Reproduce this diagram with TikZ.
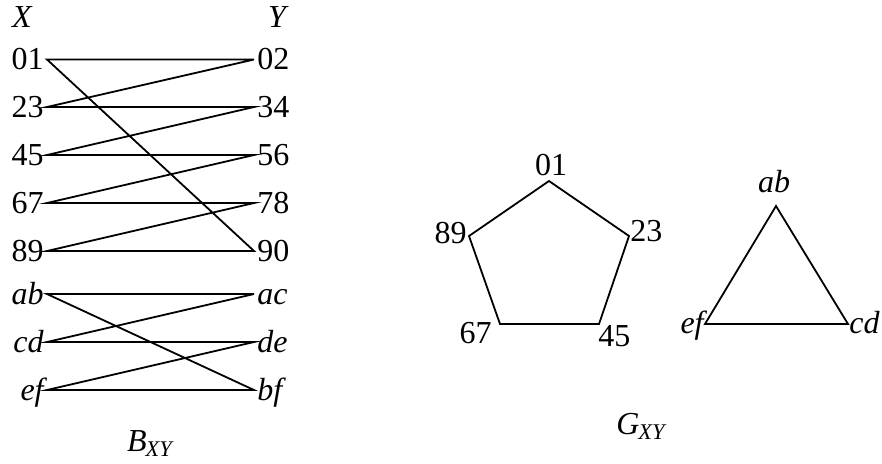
\documentclass[tikz,border=0pt]{standalone}
\usepackage{fontspec}
\setmainfont{Liberation Serif}
\begin{document}
\begin{tikzpicture}[x=0.5pt,y=-0.5pt,
  lbl/.style={inner sep=0pt,font=\fontsize{16}{19}\selectfont},
  edge/.style={line width=0.9pt,line join=miter}]
\useasboundingbox (0,0) rectangle (882,463);
% ---------- B_XY ----------
\node[lbl,anchor=base] (X) at (22,27) {\itshape X};
\node[lbl,anchor=base] (Y) at (277,27) {\itshape Y};
\foreach \n/\t/\y in {l01/01/59.5,l23/23/107,l45/45/155,l67/67/203,l89/89/251}
  {\coordinate (\n) at (47,\y);
   \node[lbl,anchor=base east] (t\n) at (44,\y+10) {\t};}
\foreach \n/\t/\y in {lab/ab/294,lcd/cd/342,lef/ef/390}
  {\coordinate (\n) at (47,\y);
   \node[lbl,anchor=base east] (t\n) at (44,\y+10) {\itshape \t};}
\foreach \n/\t/\y in {r02/02/59.5,r34/34/107,r56/56/155,r78/78/203,r90/90/251}
  {\coordinate (\n) at (254,\y);
   \node[lbl,anchor=base west] (t\n) at (257,\y+10) {\t};}
\foreach \n/\t/\y in {rac/ac/294,rde/de/342,rbf/bf/390}
  {\coordinate (\n) at (254,\y);
   \node[lbl,anchor=base west] (t\n) at (257,\y+10) {\itshape \t};}
\draw[edge] (r02) -- (l01) -- (r90) -- (l89) -- (r78) -- (l67) -- (r56) -- (l45) -- (r34) -- (l23) -- (r02);
\draw[edge] (rac) -- (lab) -- (rbf) -- (lef) -- (rde) -- (lcd) -- (rac);
\node[lbl,anchor=base] (B) at (150,451) {\itshape B\textsubscript{\kern-0.5pt XY}};
% ---------- G_XY pentagon ----------
\coordinate (p01) at (549,181);
\coordinate (p23) at (629,236);
\coordinate (p45) at (599,324);
\coordinate (p67) at (500,324);
\coordinate (p89) at (469,236);
\draw[edge] (p01) -- (p23) -- (p45) -- (p67) -- (p89) -- cycle;
\node[lbl,anchor=base] (tp01) at (551,175) {01};
\node[lbl,anchor=base west] (tp23) at (630,241) {23};
\node[lbl,anchor=base west] (tp45) at (598,346) {45};
\node[lbl,anchor=base east] (tp67) at (492,343) {67};
\node[lbl,anchor=base east] (tp89) at (467,243) {89};
% ---------- triangle ----------
\coordinate (tab) at (776,206);
\coordinate (tcd) at (848,324);
\coordinate (tef) at (705,324);
\draw[edge] (tab) -- (tcd) -- (tef) -- cycle;
\node[lbl,anchor=base] (ttab) at (774,192) {\itshape ab};
\node[lbl,anchor=base west] (ttcd) at (849,333) {\itshape cd};
\node[lbl,anchor=base east] (ttef) at (704,333) {\itshape ef};
\node[lbl,anchor=base] (G) at (641,434) {\itshape G\textsubscript{\kern-0.5pt XY}};
\end{tikzpicture}
\end{document}
